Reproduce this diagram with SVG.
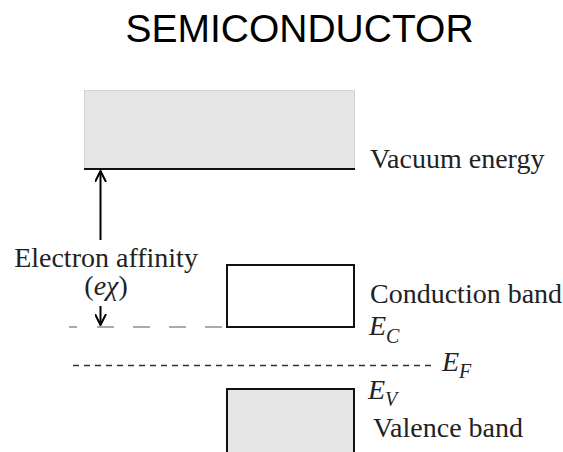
<svg xmlns="http://www.w3.org/2000/svg" width="563" height="452" viewBox="0 0 563 452">
<defs>
<style>
.t{font-family:"Liberation Serif","Times New Roman",serif;font-size:28px;fill:#222}
.i{font-style:italic}
.title{font-family:"Liberation Sans",Arial,sans-serif;font-size:39px;fill:#000}
.arr{stroke:#000;stroke-width:2;fill:none}
</style>
<marker id="ah" viewBox="0 0 12 12" refX="11" refY="6" markerWidth="12" markerHeight="12" markerUnits="userSpaceOnUse" orient="auto-start-reverse">
<path d="M0,0.5 L11,6 L0,11.5" fill="none" stroke="#000" stroke-width="2"/>
</marker>
</defs>
<rect width="563" height="452" fill="#fff"/>
<text class="title" x="299.5" y="42" text-anchor="middle">SEMICONDUCTOR</text>

<g id="vacuum">
<rect x="84.5" y="90.5" width="270" height="78.5" fill="#e5e5e5" stroke="#d2d2d2" stroke-width="1"/>
<line x1="84" y1="169" x2="355" y2="169" stroke="#111" stroke-width="2.2"/>
<text class="t" x="370" y="168">Vacuum energy</text>
</g>

<g id="conduction">
<rect x="227" y="265" width="127" height="62" fill="#fff" stroke="#111" stroke-width="2"/>
<text class="t" x="370" y="303">Conduction band</text>
<text class="t i" x="369" y="335">E<tspan font-size="20" dy="8">C</tspan></text>
</g>

<g id="fermi">
<text class="t i" x="442" y="371">E<tspan font-size="20" dy="7">F</tspan></text>
</g>

<g id="valence">
<rect x="227" y="389" width="127" height="70" fill="#e5e5e5" stroke="#111" stroke-width="2"/>
<text class="t i" x="368" y="399">E<tspan font-size="20" dy="7">V</tspan></text>
<text class="t" x="373" y="437">Valence band</text>
</g>

<g id="affinity">
<text class="t" x="106" y="267" text-anchor="middle">Electron affinity</text>
<text class="t" x="106" y="295" text-anchor="middle">(<tspan class="i">eχ</tspan>)</text>
</g>

<g id="connectors">
<line class="arr" x1="100.5" y1="171" x2="100.5" y2="240" marker-start="url(#ah)"/>
<line class="arr" x1="100.5" y1="306" x2="100.5" y2="325" marker-end="url(#ah)"/>
<line x1="69" y1="327" x2="226" y2="327" stroke="#aaa" stroke-width="2" stroke-dasharray="8 20 17 19 17 19 17 19 17 19"/>
<line x1="73" y1="365.5" x2="433" y2="365.5" stroke="#333" stroke-width="1.5" stroke-dasharray="6 5"/>
</g>
</svg>
